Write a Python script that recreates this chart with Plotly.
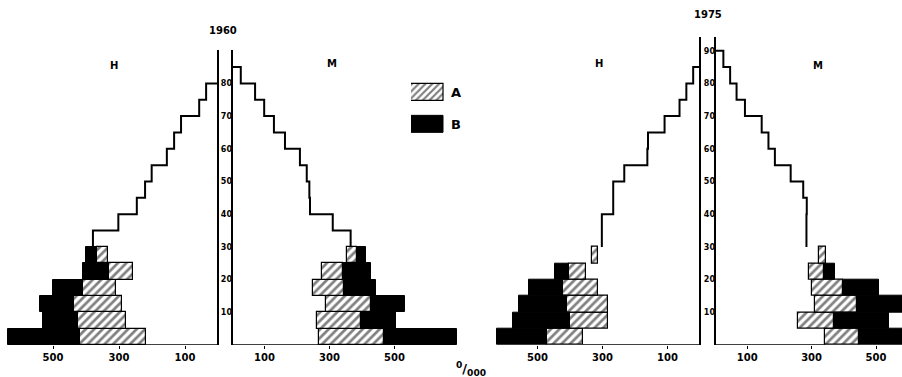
import plotly.graph_objects as go

# ---------------- data (per 10 000) ----------------
bar_age_start = [0, 5, 10, 15, 20, 25]          # 5-year age groups drawn as bars
step_age_start = 30                              # outline starts at age 30
x_tick_vals = [100, 300, 500]
age_ticks_1960 = [10, 20, 30, 40, 50, 60, 70, 80]
age_ticks_1975 = [10, 20, 30, 40, 50, 60, 70, 80, 90]

# 1960 - H
h60_white = [218, 279, 291, 309, 258, 333]
h60_A = [200, 145, 145, 100, 72, 34]
h60_B = [218, 106, 103, 91, 79, 33]
h60_step = [379, 302, 246, 221, 201, 155, 133, 112, 57, 36]
# 1960 - M
m60_white = [268, 261, 288, 250, 278, 355]
m60_A = [200, 136, 139, 96, 63, 29]
m60_B = [223, 107, 105, 96, 86, 27]
m60_step = [365, 310, 240, 238, 230, 209, 163, 129, 99, 71, 27]
# 1975 - H
h75_white = [361, 282, 284, 315, 352, 313]
h75_A = [109, 118, 126, 106, 50, 20]
h75_B = [156, 174, 146, 104, 44, 0]
h75_step = [302, 302, 267, 267, 233, 162, 160, 109, 63, 42, 21]
# 1975 - M
m75_white = [342, 259, 311, 300, 292, 323]
m75_A = [105, 111, 129, 98, 47, 21]
m75_B = [160, 170, 170, 111, 34, 0]
m75_step = [284, 284, 285, 274, 235, 186, 166, 145, 93, 67, 47, 26]

# ---------------- figure ----------------
W, H = 902, 377
FONT = "DejaVu Sans"
fig = go.Figure()

bar_mid = [a + 2.5 for a in bar_age_start]

panels = [
    ("x", "y", h60_white, h60_A, h60_B, h60_step, True),
    ("x2", "y", m60_white, m60_A, m60_B, m60_step, False),
    ("x3", "y2", h75_white, h75_A, h75_B, h75_step, False),
    ("x4", "y2", m75_white, m75_A, m75_B, m75_step, False),
]

for xa, ya, white, a_vals, b_vals, step, legend in panels:
    a_end = [w + a for w, a in zip(white, a_vals)]
    fig.add_trace(go.Bar(
        y=bar_mid, x=a_vals, base=white, orientation="h", width=5,
        xaxis=xa, yaxis=ya, name="A", legendgroup="A", showlegend=legend,
        marker=dict(color="white", line=dict(color="black", width=1.2),
                    pattern=dict(shape="/", fgcolor="black", bgcolor="white",
                                 size=6, solidity=0.45)),
        cliponaxis=False, hoverinfo="skip"))
    fig.add_trace(go.Bar(
        y=bar_mid, x=b_vals, base=a_end, orientation="h", width=5,
        xaxis=xa, yaxis=ya, name="B", legendgroup="B", showlegend=legend,
        marker=dict(color="black", line=dict(color="black", width=1)),
        cliponaxis=False, hoverinfo="skip"))
    step_ages = [step_age_start + 5 * i for i in range(len(step) + 1)]
    fig.add_trace(go.Scatter(
        x=step + [0], y=step_ages, mode="lines", line=dict(color="black", width=2, shape="vh"),
        xaxis=xa, yaxis=ya, showlegend=False, cliponaxis=False, hoverinfo="skip"))
    fig.add_trace(go.Scatter(
        x=[white[0], 0], y=[0, 0], mode="lines", line=dict(color="black", width=1.5),
        xaxis=xa, yaxis=ya, showlegend=False, cliponaxis=False, hoverinfo="skip"))

PX_PER_YEAR = 3.27
AGE0_PX = 345


def xdom(p0, p1):
    return [p0 / W, p1 / W]


def xaxis_cfg(dom_px, zero_px, k, reversed_, anchor):
    p0, p1 = dom_px
    if reversed_:
        rng = [(zero_px - p0) / k, (zero_px - p1) / k]
    else:
        rng = [(p0 - zero_px) / k, (p1 - zero_px) / k]
    return dict(domain=xdom(p0, p1), range=rng, anchor=anchor,
                tickvals=x_tick_vals, ticks="outside", ticklen=3, tickcolor="black",
                showline=False, showgrid=False, zeroline=True, zerolinecolor="black",
                zerolinewidth=1.5, fixedrange=True,
                tickfont=dict(family=FONT, size=10, color="black", weight="bold"))


def yaxis_cfg(top_px, pos_px, tickvals):
    return dict(domain=[1 - AGE0_PX / H, 1 - top_px / H],
                range=[0, (AGE0_PX - top_px) / PX_PER_YEAR],
                anchor="free", position=pos_px / W, side="left",
                tickvals=tickvals, ticks="", showline=False, showgrid=False,
                zeroline=False, fixedrange=True,
                tickfont=dict(family=FONT, size=8, color="black", weight="bold"))


fig.update_layout(
    width=W, height=H, margin=dict(l=0, r=0, t=0, b=0),
    paper_bgcolor="white", plot_bgcolor="rgba(0,0,0,0)",
    barmode="overlay", bargap=0,
    xaxis=xaxis_cfg((0, 224), 218, 0.33, True, "y"),
    xaxis2=xaxis_cfg((226, 470), 232, 0.325, False, "y"),
    xaxis3=xaxis_cfg((470, 706), 700, 0.325, True, "y2"),
    xaxis4=xaxis_cfg((709, 902), 715, 0.322, False, "y2"),
    yaxis=yaxis_cfg(50, 232, age_ticks_1960),
    yaxis2=yaxis_cfg(36.7, 715, age_ticks_1975),
    legend=dict(x=411 / W, y=1 - 77 / H, xanchor="left", yanchor="top",
                bgcolor="rgba(0,0,0,0)", tracegroupgap=12, borderwidth=0,
                font=dict(family=FONT, size=13, color="black", weight="bold")),
    showlegend=True,
)


def label(text, px, py, size=10):
    fig.add_annotation(text=text, x=px / W, y=1 - py / H, xref="paper", yref="paper",
                       showarrow=False, xanchor="center", yanchor="middle",
                       font=dict(family=FONT, size=size, color="black", weight="bold"))


label("1960", 223, 30)
label("1975", 708, 15)
label("H", 114, 65)
label("M", 332, 63)
label("H", 599, 64)
label("M", 818, 65)
label("<sup>0</sup>/<sub>000</sub>", 471, 369, size=13)

# page without default body margin; wider legend swatches like the original key
post_js = """
document.body.style.margin = '0';
document.body.style.padding = '0';
var gd = document.getElementById('{plot_id}');
function widenKeys() {
  document.querySelectorAll('g.legendpoints path').forEach(function (p) {
    if (p.getAttribute('d') !== 'M12,8.5H-22V-8.5H12Z') {
      p.setAttribute('d', 'M12,8.5H-22V-8.5H12Z');
    }
  });
}
widenKeys();
if (gd && gd.on) { gd.on('plotly_afterplot', widenKeys); }
[0, 30, 100, 250, 500, 1000, 2000].forEach(function (t) { setTimeout(widenKeys, t); });
new MutationObserver(widenKeys).observe(document.body, {childList: true, subtree: true});
"""

fig.write_html("out.html", post_script=post_js, config={"displayModeBar": False})
